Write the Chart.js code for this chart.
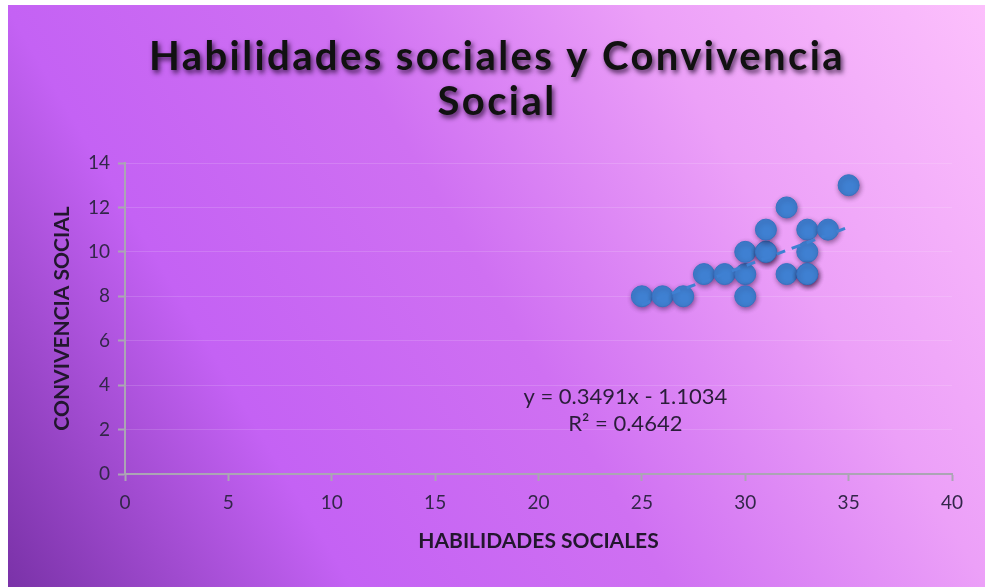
<!DOCTYPE html>
<html>
<head>
<meta charset="utf-8">
<script src="https://cdn.jsdelivr.net/npm/chart.js@4.4.1/dist/chart.umd.min.js"></script>
<style>
  html, body { margin: 0; padding: 0; background: #fff; }
</style>
</head>
<body>
<canvas id="mycanvas" width="985" height="587"></canvas>
<script>
// ** Habilidades sociales vs Convivencia social (scatter + linear trend)

var titleLines = ['Habilidades sociales y Convivencia', 'Social'];
var xLabel = 'HABILIDADES SOCIALES';
var yLabel = 'CONVIVENCIA SOCIAL';

// one entry per student (stacked dots repeated)
var habilidades = [25, 26, 27, 28, 29, 30, 30, 30, 31, 31, 31, 32, 32, 33, 33, 33, 33, 34, 35];
var convivencia = [ 8,  8,  8,  9,  9,  9,  8, 10, 10, 10, 11, 12,  9, 11, 10,  9,  9, 11, 13];

// trend line as printed on the chart
var trendSlope = 0.3491;
var trendIntercept = -1.1034;
var trendR2 = 0.4642;
var trendFrom = 25;
var trendTo = 35;
var eqLines = ['y = 0.3491x - 1.1034', 'R\u00b2 = 0.4642'];

var xMin = 0, xMax = 40, xStep = 5;
var yMin = 0, yMax = 14, yStep = 2;

var pts = [];
for (var i = 0; i < habilidades.length; i++) {
	pts.push({x: habilidades[i], y: convivencia[i]});
}
var trend = [
	{x: trendFrom, y: trendSlope * trendFrom + trendIntercept},
	{x: trendTo, y: trendSlope * trendTo + trendIntercept}
];

var tickColor = '#33264a';
var axisGray = '#aba5b4';
var dotBlue = '#3f80d2';

var bgPlugin = {
	id: 'bg',
	beforeDraw: function(chart) {
		var c = chart.ctx;
		var w = chart.width, h = chart.height;
		c.save();
		c.fillStyle = '#ffffff';
		c.fillRect(0, 0, w, h);
		var g = c.createLinearGradient(8, h, w, 5);
		g.addColorStop(0, '#7a32a8');
		g.addColorStop(0.26, '#c462f4');
		g.addColorStop(0.5, '#cf70f2');
		g.addColorStop(0.74, '#eca0f8');
		g.addColorStop(1, '#fcc0fc');
		c.fillStyle = g;
		c.fillRect(8, 5, w - 8, h - 5);
		c.restore();
	}
};

var titlePlugin = {
	id: 'bigTitle',
	afterDraw: function(chart) {
		var c = chart.ctx;
		c.save();
		c.font = 'bold 40px Lato';
		c.textAlign = 'center';
		c.textBaseline = 'middle';
		c.fillStyle = '#111111';
		c.shadowColor = 'rgba(20,0,30,0.75)';
		c.shadowBlur = 5;
		c.shadowOffsetX = 2;
		c.shadowOffsetY = 3;
		var w0 = c.measureText(titleLines[0]).width;
		var sp = Math.max(0, (695 - w0) / titleLines[0].length);
		c.letterSpacing = sp.toFixed(1) + 'px';
		c.fillText(titleLines[0], 497, 57);
		c.fillText(titleLines[1], 497, 102);
		c.restore();

		// equation label of the trend line
		var xs = chart.scales.x, ys = chart.scales.y;
		c.save();
		c.font = '22px Lato';
		c.textAlign = 'center';
		c.textBaseline = 'middle';
		c.fillStyle = '#2a1d3a';
		c.fillText(eqLines[0], xs.getPixelForValue(24.2), ys.getPixelForValue(3.45));
		c.fillText(eqLines[1], xs.getPixelForValue(24.2), ys.getPixelForValue(2.25));
		c.restore();
	}
};

var shadowPlugin = {
	id: 'dotShadow',
	beforeDatasetDraw: function(chart, args) {
		if (args.index !== 0) return;
		var c = chart.ctx;
		c.save();
		c.shadowColor = 'rgba(30,0,40,0.45)';
		c.shadowBlur = 5;
		c.shadowOffsetX = 1;
		c.shadowOffsetY = 2;
	},
	afterDatasetDraw: function(chart, args) {
		if (args.index !== 0) return;
		chart.ctx.restore();
	}
};

var ctx = document.getElementById('mycanvas');

var scatter = new Chart(ctx, {
	type: 'scatter',
	data: {
		datasets: [{
			label: 'Convivencia',
			data: pts,
			order: 1,
			backgroundColor: dotBlue,
			borderColor: '#3673c2',
			borderWidth: 1,
			pointRadius: 10.5,
			pointHoverRadius: 10.5
		}, {
			label: 'Lineal',
			type: 'line',
			data: trend,
			order: 0,
			showLine: true,
			borderColor: dotBlue,
			borderWidth: 3,
			borderDash: [9, 7],
			pointRadius: 0,
			fill: false
		}]
	},
	options: {
		responsive: false,
		animation: false,
		layout: {
			padding: {top: 163, right: 33, left: 0, bottom: 0}
		},
		plugins: {
			legend: {display: false},
			tooltip: {enabled: false},
			title: {display: false}
		},
		scales: {
			x: {
				type: 'linear',
				min: xMin,
				max: xMax,
				afterFit: function(s) { s.height = 113; },
				ticks: {
					stepSize: xStep,
					color: tickColor,
					padding: 10,
					font: {family: 'Lato', size: 19}
				},
				border: {color: axisGray, width: 2},
				grid: {
					drawOnChartArea: false,
					tickColor: axisGray,
					tickLength: 7,
					tickWidth: 2
				},
				title: {
					display: true,
					text: xLabel,
					color: '#22162e',
					font: {family: 'Lato', size: 21, weight: 'bold'},
					padding: {top: 0, bottom: 33}
				}
			},
			y: {
				min: yMin,
				max: yMax,
				afterFit: function(s) { s.width = 125; },
				ticks: {
					stepSize: yStep,
					color: tickColor,
					padding: 8,
					font: {family: 'Lato', size: 19}
				},
				border: {color: axisGray, width: 2},
				grid: {
					color: 'rgba(255,255,255,0.14)',
					tickColor: axisGray,
					tickLength: 7,
					tickWidth: 2
				},
				title: {
					display: true,
					text: yLabel,
					color: '#22162e',
					font: {family: 'Lato', size: 21, weight: 'bold'},
					padding: {top: 50, bottom: 0}
				}
			}
		}
	},
	plugins: [bgPlugin, shadowPlugin, titlePlugin]
});
</script>
</body>
</html>
